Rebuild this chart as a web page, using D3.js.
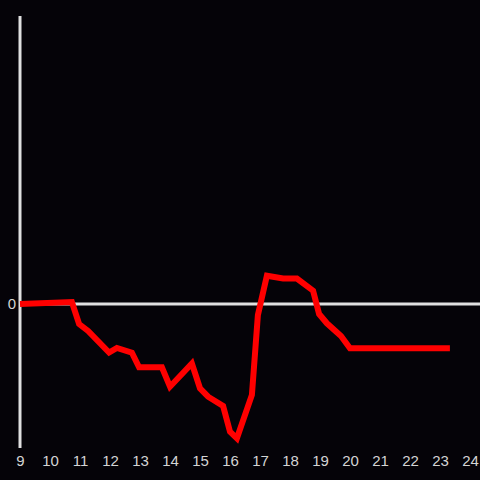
<!DOCTYPE html>
<html><head><meta charset="utf-8">
<script src="https://cdn.jsdelivr.net/npm/d3@7"></script>
<style>html,body{margin:0;padding:0;background:#050308;}svg{display:block;}</style>
</head><body>
<script>
const hours = [9, 10.73, 10.97, 11.27, 11.97, 12.23, 12.73, 12.97, 13.73, 14.0, 14.73, 15.0, 15.27, 15.77, 16.0, 16.23, 16.73, 16.93, 17.23, 17.77, 18.23, 18.77, 18.97, 19.23, 19.7, 20.0, 23.33];
const values = [0, 2, -20, -27, -48.5, -44, -48.7, -63.3, -63.3, -82.7, -59.5, -84.3, -92.7, -102, -127.7, -134.3, -91, -11, 28.3, 25.5, 25.5, 13.3, -10, -19.3, -32, -44.3, -44.3];
const xTicks = [9,10,11,12,13,14,15,16,17,18,19,20,21,22,23,24];
const yTicks = [0];

const W = 480, H = 480;
const svg = d3.select("body").append("svg").attr("width", W).attr("height", H);
svg.append("rect").attr("width", W).attr("height", H).attr("fill", "#050308");

const x = d3.scaleLinear().domain([9, 24]).range([20, 470]);
const y = d3.scaleLinear().domain([-144, 288]).range([448, 16]);

// zero line
svg.append("line").attr("x1", x(9)).attr("x2", W).attr("y1", y(0)).attr("y2", y(0))
  .attr("stroke", "#e0e0e0").attr("stroke-width", 3);

// y axis line
svg.append("line").attr("x1", x(9)).attr("x2", x(9)).attr("y1", 16).attr("y2", 448)
  .attr("stroke", "#e0e0e0").attr("stroke-width", 3);

// x tick labels
const xa = svg.append("g").attr("transform", "translate(0,448)")
  .call(d3.axisBottom(x).tickValues(xTicks).tickFormat(d3.format("d")).tickSize(0).tickPadding(7));
xa.select(".domain").remove();
xa.selectAll("text").attr("fill", "#d4d4d4").attr("font-family", "'Liberation Sans', Arial, sans-serif").attr("font-size", 15);

const ya = svg.append("g").attr("transform", "translate(20,0)")
  .call(d3.axisLeft(y).tickValues(yTicks).tickFormat(d3.format("d")).tickSize(0).tickPadding(4));
ya.select(".domain").remove();
ya.selectAll("text").attr("fill", "#d4d4d4").attr("font-family", "'Liberation Sans', Arial, sans-serif").attr("font-size", 15);

const data = hours.map((h, i) => [h, values[i]]);
svg.append("path").datum(data)
  .attr("d", d3.line().x(d => x(d[0])).y(d => y(d[1])))
  .attr("fill", "none").attr("stroke", "#ff0000").attr("stroke-width", 6)
  .attr("stroke-linejoin", "miter").attr("stroke-linecap", "butt");
</script>
</body></html>
